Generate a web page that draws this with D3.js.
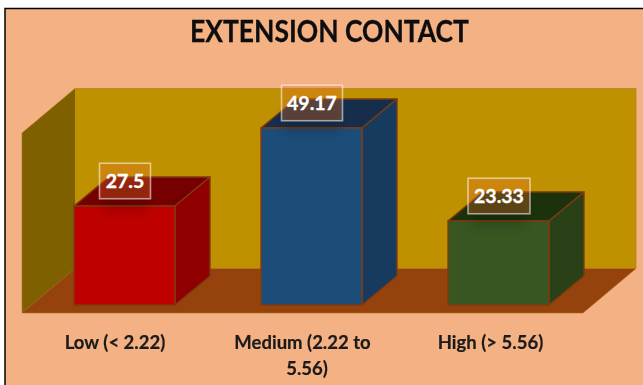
<!DOCTYPE html>
<html><head><meta charset="utf-8">
<script src="https://cdn.jsdelivr.net/npm/d3@7"></script>
<style>html,body{margin:0;padding:0;background:#fff}svg{display:block}text{font-family:Lato,"Open Sans",sans-serif;font-weight:700}</style>
</head><body>
<script>
const title = "EXTENSION CONTACT";
const categories = ["Low (< 2.22)", "Medium (2.22 to 5.56)", "High (> 5.56)"];
const values = [27.5, 49.17, 23.33];
const labelLines = [["Low (< 2.22)"], ["Medium (2.22 to", "5.56)"], ["High (> 5.56)"]];
const frontColors = ["#BE0000", "#1F4E79", "#385723"];
const sideColors = ["#900000", "#183A5E", "#2A4117"];
const topColors = ["#760000", "#142E4C", "#1E3211"];

const W = 643, H = 385, dx = 35, dy = -29, wallDx = 53, wallDy = -44.5;
const svg = d3.select("body").append("svg").attr("width", W).attr("height", H);
const defs = svg.append("defs");
const soft = defs.append("filter").attr("id", "soft").attr("x", "-5%").attr("y", "-5%").attr("width", "110%").attr("height", "110%");
soft.append("feGaussianBlur").attr("stdDeviation", 0.5);
const shadow = defs.append("filter").attr("id", "shadow").attr("x", "-40%").attr("y", "-40%").attr("width", "180%").attr("height", "180%");
shadow.append("feGaussianBlur").attr("stdDeviation", 5);
const txtBlur = defs.append("filter").attr("id", "txt").attr("x", "-5%").attr("y", "-20%").attr("width", "110%").attr("height", "140%");
txtBlur.append("feGaussianBlur").attr("stdDeviation", 0.35);

svg.append("rect").attr("x", 5).attr("y", 8.5).attr("width", W).attr("height", H)
  .attr("fill", "#F4B183").attr("stroke", "#000").attr("stroke-width", 1.5);

const x = d3.scaleBand().domain(categories).range([31, 592]).paddingInner(0.46).paddingOuter(0.23);
const y = d3.scaleLinear().domain([0, 50]).range([305, 125]);
const path = pts => d3.line()(pts) + "Z";

const art = svg.append("g").attr("filter", "url(#soft)");
const floorY = 313, wallL = 22, wallR = 583, wallTop = 133;
const edge = "#A8741A";
art.append("path").attr("fill", "#BF9000")
  .attr("d", path([[wallL + wallDx, wallTop + wallDy], [wallR + wallDx, wallTop + wallDy], [wallR + wallDx, floorY + wallDy], [wallL + wallDx, floorY + wallDy]]));
art.append("path").attr("fill", "#7F6000")
  .attr("d", path([[wallL, wallTop], [wallL + wallDx, wallTop + wallDy], [wallL + wallDx, floorY + wallDy], [wallL, floorY]]));
art.append("path").attr("fill", "#96430B")
  .attr("d", path([[wallL, floorY], [wallL + wallDx, floorY + wallDy], [wallR + wallDx, floorY + wallDy], [wallR, floorY]]));
art.append("path").attr("fill", "none").attr("stroke", edge).attr("stroke-opacity", 0.55).attr("stroke-width", 1)
  .attr("d", path([[wallL, wallTop], [wallL + wallDx, wallTop + wallDy], [wallR + wallDx, wallTop + wallDy], [wallR + wallDx, floorY + wallDy], [wallR, floorY], [wallL, floorY]]));

const bars = art.selectAll("g.bar").data(categories).join("g").attr("class", "bar");
bars.each(function (c, i) {
  const g = d3.select(this), l = x(c), r = l + x.bandwidth(), t = y(values[i]), b = y(0);
  const st = { stroke: "#7E3A10", "stroke-width": 1.4, "stroke-linejoin": "round" };
  const add = (pts, f) => { const p = g.append("path").attr("d", path(pts)).attr("fill", f); Object.entries(st).forEach(([k, v]) => p.attr(k, v)); };
  add([[l, t], [l + dx, t + dy], [r + dx, t + dy], [r, t]], topColors[i]);
  add([[r, t], [r + dx, t + dy], [r + dx, b + dy], [r, b]], sideColors[i]);
  add([[l, t], [r, t], [r, b], [l, b]], frontColors[i]);
});

// data labels
const boxW = [51, 61, 62], boxH = 35.5;
const lab = svg.selectAll("g.lab").data(categories).join("g").attr("class", "lab")
  .attr("transform", (c, i) => `translate(${x(c) + x.bandwidth() / 2 + 0.5},${y(values[i]) - 25})`);
lab.append("rect").attr("x", (c, i) => -boxW[i] / 2 + 3).attr("y", 2).attr("width", (c, i) => boxW[i] - 6).attr("height", boxH - 6)
  .attr("fill", "#000").attr("opacity", 0.12).attr("filter", "url(#shadow)");
lab.append("rect").attr("x", (c, i) => -boxW[i] / 2).attr("y", -boxH / 2).attr("width", (c, i) => boxW[i]).attr("height", boxH)
  .attr("fill", "rgb(230,115,40)").attr("fill-opacity", 0.33).attr("stroke", "#fff").attr("stroke-opacity", 0.55).attr("stroke-width", 1.6);
lab.append("text").attr("text-anchor", "middle").attr("y", 7).attr("font-size", 19.5).attr("fill", "#fff")
  .attr("stroke", "#fff").attr("stroke-width", 0.35).text((c, i) => values[i]);

// title
svg.append("text").attr("x", 329.5).attr("y", 42).attr("text-anchor", "middle")
  .attr("font-size", 30).attr("fill", "#111").attr("filter", "url(#txt)").attr("stroke", "#111").attr("stroke-width", 0.3)
  .attr("textLength", 279).attr("lengthAdjust", "spacingAndGlyphs").text(title);

// category labels
const catShift = [-9.5, -9, -8];
const cat = svg.selectAll("g.cat").data(categories).join("g").attr("class", "cat")
  .attr("transform", (c, i) => `translate(${x(c) + x.bandwidth() / 2 + catShift[i]},0)`);
cat.selectAll("text").data((c, i) => labelLines[i].map((t, j) => ({ t, j, i }))).join("text")
  .attr("text-anchor", "middle").attr("x", d => d.i === 1 && d.j === 1 ? 4.5 : 0).attr("y", d => 349 + d.j * 26)
  .attr("font-size", 18.5).attr("fill", "#1a1a1a").attr("filter", "url(#txt)").attr("stroke", "#1a1a1a").attr("stroke-width", 0.2).text(d => d.t);
</script>
</body></html>
